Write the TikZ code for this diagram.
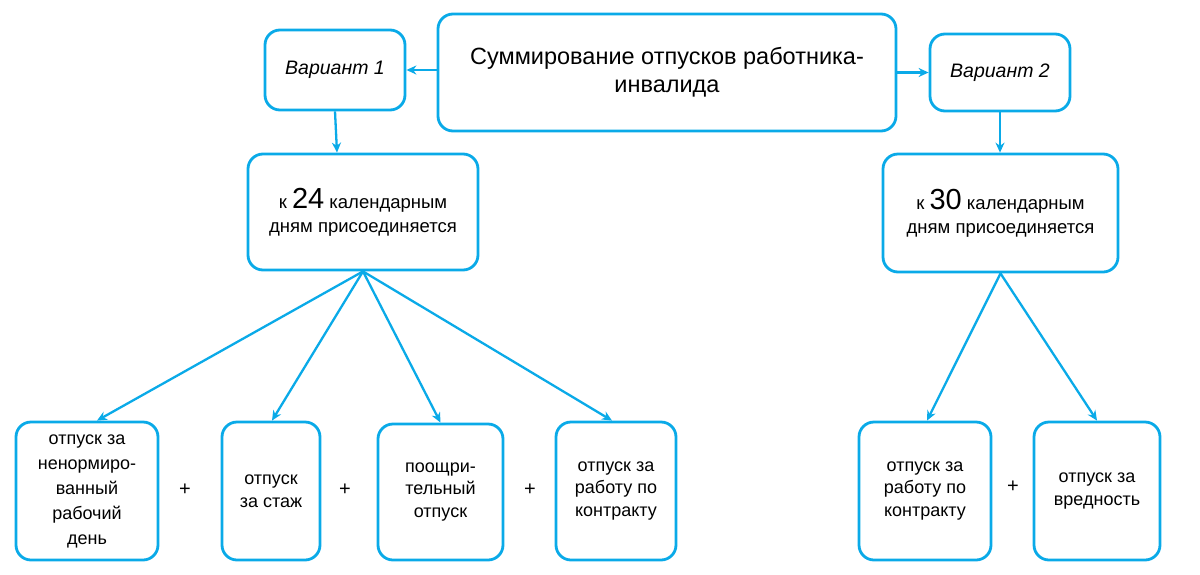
\documentclass[tikz,border=0pt]{standalone}
\usepackage{fontspec}
\setmainfont{Liberation Sans}
\usetikzlibrary{arrows.meta}
\definecolor{lineblue}{RGB}{10,170,232}
\tikzset{
  box/.style={draw=lineblue, line width=2.8pt, rounded corners=15pt, fill=white,
    align=center, inner sep=0pt, font=\fontsize{18}{22.5}\selectfont},
  conn/.style={draw=lineblue, line width=2.3pt, -{Stealth[length=10pt,width=9pt]}},
  plus/.style={font=\fontsize{20}{20}\selectfont\rmfamily, inner sep=0pt}
}
\begin{document}
\begin{tikzpicture}[x=1pt,y=-1pt]
\useasboundingbox (0,0) rectangle (1200,574);
% top
\node[box, minimum width=458pt, minimum height=117pt, font=\fontsize{23.5}{28}\selectfont] (main) at (667,72.5)
  {Суммирование отпусков работника-\\инвалида};
\node[box, minimum width=140pt, minimum height=80pt, font=\fontsize{19.5}{22}\selectfont\itshape] (v1) at (335,70) {Вариант 1};
\node[box, minimum width=140pt, minimum height=77pt, font=\fontsize{19.5}{22}\selectfont\itshape] (v2) at (1000,72.5) {Вариант 2};
% middle
\node[box, minimum width=230pt, minimum height=116pt, font=\fontsize{18.5}{24}\selectfont] (m1) at (363,212)
  {к {\fontsize{29}{29}\selectfont 24} календарным\\дням присоединяется};
\node[box, minimum width=235pt, minimum height=118pt, font=\fontsize{18.5}{24}\selectfont] (m2) at (1000.5,213)
  {к {\fontsize{29}{29}\selectfont 30} календарным\\дням присоединяется};
% bottom
\node[box, minimum width=142pt, minimum height=138pt, font=\fontsize{18}{25}\selectfont] (b1) at (87,491)
  {отпуск за\\ненормиро-\\ванный\\рабочий\\день};
\node[box, minimum width=98pt, minimum height=138pt] (b2) at (271,491) {отпуск\\за стаж};
\node[box, minimum width=125pt, minimum height=136pt] (b3) at (440.5,492) {поощри-\\тельный\\отпуск};
\node[box, minimum width=120pt, minimum height=138pt] (b4) at (616,491) {отпуск за\\работу по\\контракту};
\node[box, minimum width=132pt, minimum height=138pt] (b5) at (925,491) {отпуск за\\работу по\\контракту};
\node[box, minimum width=126pt, minimum height=138pt] (b6) at (1097,491) {отпуск за\\вредность};
% plus signs
\node[plus] (p1) at (185,490) {+};
\node[plus] (p2) at (345,490) {+};
\node[plus] (p3) at (530,490) {+};
\node[plus] (p4) at (1013,487) {+};
% connectors
\draw[conn] (main.west |- v1.east) -- (v1.east);
\draw[conn] (main.east |- v2.west) -- (v2.west);
\draw[conn] (v1.south) -- ([xshift=-26pt]m1.north);
\draw[conn] (v2.south) -- (v2.south |- m2.north);
\draw[conn] (m1.south) -- ([xshift=10pt]b1.north);
\draw[conn] (m1.south) -- ([xshift=1pt]b2.north);
\draw[conn] (m1.south) -- (b3.north);
\draw[conn] (m1.south) -- ([xshift=-4pt]b4.north);
\draw[conn] (m2.south) -- ([xshift=2pt]b5.north);
\draw[conn] (m2.south) -- (b6.north);
\end{tikzpicture}
\end{document}
